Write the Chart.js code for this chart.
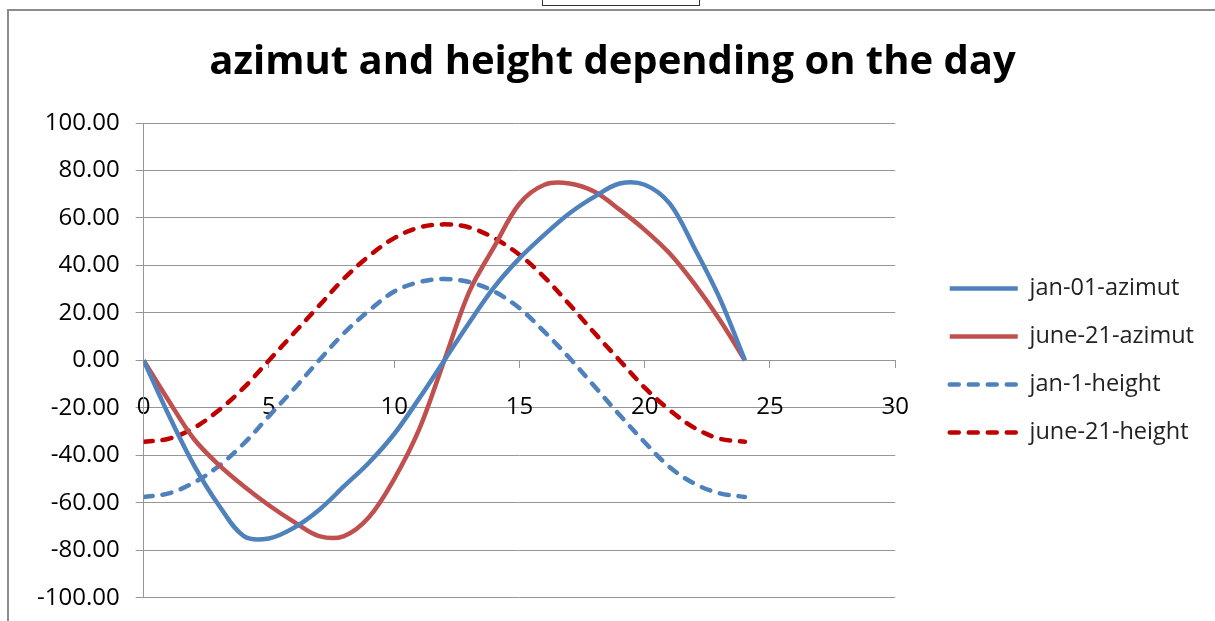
<!DOCTYPE html>
<html>
<head>
<meta charset="utf-8">
<script src="https://cdn.jsdelivr.net/npm/chart.js@4"></script>
<style>
  html, body { margin: 0; padding: 0; background: #fff; overflow: hidden; }
  body { width: 1215px; height: 621px; position: relative; }
  .frame { position: absolute; left: 7px; top: 9px; width: 1300px; height: 700px; border: 2px solid #8c8c8c; }
  .tab { position: absolute; left: 542px; top: -2px; width: 156px; height: 6px; border: 1px solid #333; background: #fff; }
  #chart { position: absolute; left: 0; top: 0; }
</style>
</head>
<body>
<div class="frame"></div>
<div class="tab"></div>
<canvas id="chart" width="1215" height="621"></canvas>
<script>
// hours of the day
const hours = [0, 1, 2, 3, 4, 5, 6, 7, 8, 9, 10, 11, 12, 13, 14, 15, 16, 17, 18, 19, 20, 21, 22, 23, 24];

// values
const janAzimut  = [0, -23, -44, -61, -74, -75, -70.5, -63, -53, -43, -31, -16, 0, 16, 31, 43, 53, 62, 69, 74.5, 74, 66, 47, 26, 0];
const juneAzimut = [0, -17, -33, -44, -53, -61, -68, -74, -74, -66, -50, -29, 0, 29, 48, 66, 74, 74.5, 71, 63.5, 55, 45, 32, 17, 0];
const janHeight  = [-57.5, -56, -51.5, -44.5, -35, -23.5, -12, 0, 11.5, 21, 29, 33, 34.3, 33, 29, 22, 12, 1, -11, -23, -34.5, -45, -52, -56, -57.5];
const juneHeight = [-34.3, -33, -28.5, -21, -11.5, 0, 11.5, 23, 34.5, 44, 51.5, 56, 57.3, 56, 51.5, 44.5, 35, 23.5, 11.5, 0, -11.5, -21, -28.5, -33, -34.3];

const seriesNames = ['jan-01-azimut', 'june-21-azimut', 'jan-1-height', 'june-21-height'];
const titleText = 'azimut and height depending on the day';

const C = {
  blue: '#4f81bd',
  red: '#c0504d',
  darkRed: '#c00000',
  grid: '#969696',
  text: '#000',
};

const FONT = "'Open Sans', sans-serif";

function points(ys) {
  return hours.map((h, i) => ({ x: h, y: ys[i] }));
}

function series(label, ys, color, dashed) {
  return {
    label,
    data: points(ys),
    showLine: true,
    borderColor: color,
    backgroundColor: color,
    borderWidth: 4.5,
    borderDash: dashed ? [9, 10] : [],
    borderCapStyle: dashed ? 'round' : 'butt',
    pointRadius: 0,
    tension: 0.35,
  };
}

// legend samples take the dash of their line
function legendLabels(chart) {
  const items = Chart.defaults.plugins.legend.labels.generateLabels(chart);
  items.forEach(it => {
    const ds = chart.data.datasets[it.datasetIndex];
    it.lineDash = ds.borderDash;
    it.lineWidth = ds.borderWidth;
    it.lineCap = ds.borderCapStyle;
    it.strokeStyle = ds.borderColor;
  });
  return items;
}

// hidden axis, only keeps a gap between plot area and legend
const spacer = {
  display: false,
  position: 'right',
  afterFit(s) { s.width = 30; },
};

new Chart(document.getElementById('chart'), {
  type: 'scatter',
  data: {
    datasets: [
      series(seriesNames[0], janAzimut, C.blue, false),
      series(seriesNames[1], juneAzimut, C.red, false),
      series(seriesNames[2], janHeight, C.blue, true),
      series(seriesNames[3], juneHeight, C.darkRed, true),
    ]
  },
  options: {
    responsive: false,
    animation: false,
    layout: { padding: { left: 21, right: 11, top: 0, bottom: 9 } },
    plugins: {
      title: {
        display: true,
        text: titleText,
        color: C.text,
        font: { family: FONT, size: 40, weight: 'bold' },
        padding: { top: 39, bottom: 36 },
      },
      legend: {
        position: 'right',
        fullSize: false,
        labels: {
          color: '#222',
          font: { family: FONT, size: 23.5 },
          usePointStyle: true,
          pointStyle: 'line',
          pointStyleWidth: 68,
          padding: 24.5,
          generateLabels: legendLabels,
        }
      },
      tooltip: { enabled: false },
    },
    scales: {
      x: {
        type: 'linear',
        position: { y: 0 },
        min: 0, max: 30,
        ticks: { stepSize: 5, color: C.text, font: { family: FONT, size: 24 }, padding: 24, maxRotation: 0 },
        grid: { drawOnChartArea: false, drawTicks: true, tickLength: 8, color: C.grid },
        border: { display: false },
      },
      y: {
        type: 'linear',
        min: -100, max: 100,
        ticks: { stepSize: 20, color: C.text, font: { family: FONT, size: 24, lineHeight: 0.6 }, padding: 16, callback: v => v.toFixed(2) },
        grid: { color: C.grid, tickLength: 8 },
        border: { display: true, color: C.grid },
      },
      spacer,
    }
  }
});
</script>
</body>
</html>
